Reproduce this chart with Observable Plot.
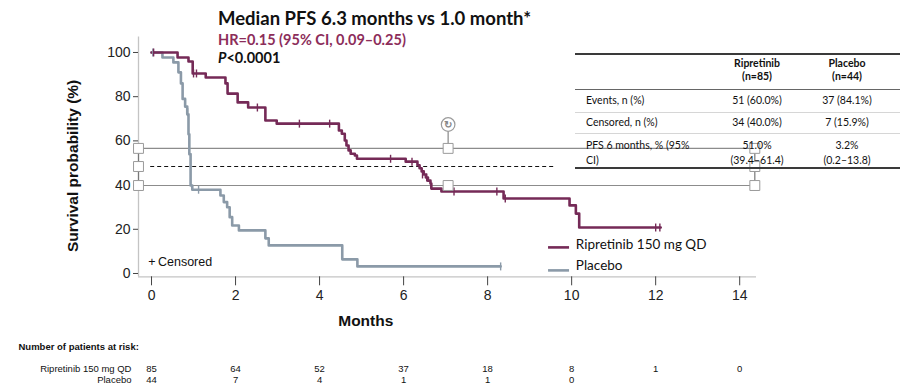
<!DOCTYPE html>
<html><head><meta charset="utf-8">
<script src="https://cdn.jsdelivr.net/npm/d3@7"></script>
<script src="https://cdn.jsdelivr.net/npm/@observablehq/plot@0.6"></script>
<style>
body{margin:0;background:#fff;}
#wrap{position:relative;width:910px;height:388px;overflow:hidden;background:#fff;}
#wrap svg{position:absolute;left:0;top:0;}
.t{position:absolute;white-space:nowrap;line-height:1;}
.tbl{font-family:Lato,"Open Sans",sans-serif;font-size:10.5px;color:#111;}
.c{transform:translate(-50%,-50%);text-align:center;}
.l{transform:translateY(-50%);}
.rule{position:absolute;left:575px;width:325px;}
</style></head><body><div id="wrap"></div>
<script>
// ---- data ----
const ripTime = [0,0.62,0.88,0.98,1.29,1.76,1.81,2.05,2.3,2.71,2.98,4.46,4.53,4.6,4.64,4.69,4.74,4.84,4.89,6.05,6.33,6.38,6.43,6.48,6.53,6.58,6.64,6.66,6.9,8.38,9.95,10.1,10.18,12.12];
const ripSurv = [100,97.7,95.9,90.5,88.7,86.0,81.4,77.4,75.1,69.2,67.8,64.7,63.2,60.2,57.9,55.7,54.2,53.4,51.9,50.6,49.0,47.6,46.2,44.8,43.4,42.0,40.7,38.4,37.1,33.9,30.8,27.1,20.8,20.8];
const ripCensT = [0.05,1.0,1.07,2.52,3.52,4.24,5.69,6.2,6.45,6.55,7.2,8.22,8.42,12.0,12.1];
const ripCensS = [100,90.5,90.5,75.1,67.8,67.8,51.9,50.6,44.8,43.4,37.1,37.1,33.9,20.8,20.8];
const plaTime = [0,0.26,0.52,0.64,0.7,0.74,0.8,0.85,0.88,0.9,0.93,0.97,1.64,1.72,1.8,1.86,1.92,2.08,2.71,2.79,4.54,4.9,8.31];
const plaSurv = [100,97.7,95.5,91,86,79,75.5,72,63,54,39.8,37.9,35.3,32.3,30,25.5,21.7,19.5,15.9,12.7,6.4,3.2,3.2];
const plaCensT = [0.03,0.8,0.86,1.12,8.31];
const plaCensS = [100,77,73,37.9,3.2];
const xTicks = [0,2,4,6,8,10,12,14];
const yTicks = [0,20,40,60,80,100];
const riskRip = [85,64,52,37,18,8,1,0];
const riskPla = [44,7,4,1,1,0];
const seriesNames = ["Ripretinib 150 mg QD","Placebo"];
const tableHead = ["Ripretinib\n(n=85)","Placebo\n(n=44)"];
const tableRows = ["Events, n (%)","Censored, n (%)","PFS 6 months, % (95%\nCI)"];
const tableRip = ["51 (60.0%)","34 (40.0%)","51.0%\n(39.4\u201361.4)"];
const tablePla = ["37 (84.1%)","7 (15.9%)","3.2%\n(0.2\u201313.8)"];
// selection-box overlay seen in the source picture
const boxY = [56.6, 48.4, 39.8];
const boxX = [-0.31, 7.06, 14.36];

const ripColor = "#752a57", plaColor = "#8b9aa8";
const rip = ripTime.map((t,i)=>({t, s:ripSurv[i]}));
const pla = plaTime.map((t,i)=>({t, s:plaSurv[i]}));
const ripC = ripCensT.map((t,i)=>({t, s:ripCensS[i]}));
const plaC = plaCensT.map((t,i)=>({t, s:plaCensS[i]}));
const bar = {draw(ctx,size){const r=Math.sqrt(size)/2;ctx.moveTo(0,-r);ctx.lineTo(0,r);}};
const handles = [
  {x:boxX[0],y:boxY[0]},{x:boxX[0],y:boxY[1]},{x:boxX[0],y:boxY[2]},
  {x:boxX[1],y:boxY[0]},{x:boxX[1],y:boxY[2]},
  {x:boxX[2],y:boxY[0]},{x:boxX[2],y:boxY[1]},{x:boxX[2],y:boxY[2]}];
const xMin=-0.31, xMax=14.4, yMin=-1.5, yMax=107;
const narrow = "'Liberation Sans Narrow','Liberation Sans',sans-serif";

const chart = Plot.plot({
  width:910, height:388,
  marginLeft:138, marginRight:154, marginTop:36.5, marginBottom:111.7,
  x:{domain:[xMin,xMax]}, y:{domain:[yMin,yMax]},
  style:{fontFamily:"'Liberation Sans',Arial,sans-serif", fontSize:"14px", color:"#222", background:"transparent"},
  marks:[
    Plot.ruleX([xMin],{y1:yMin,y2:yMax,stroke:"#c4c4c4",strokeWidth:1.3}),
    Plot.ruleY([yMin],{x1:xMin,x2:xMax,stroke:"#c4c4c4",strokeWidth:1.3}),
    Plot.axisY({ticks:yTicks, tickSize:5, tickPadding:3, fontSize:14, label:null, stroke:"#444"}),
    Plot.axisX({ticks:xTicks, tickSize:9, tickPadding:4, fontSize:14, label:null, stroke:"#444"}),
    Plot.text(["Months"],{x:5.1, frameAnchor:"bottom", dy:49, fontWeight:"bold", fontSize:15.5, fill:"#111"}),
    Plot.text(["Survival probability (%)"],{frameAnchor:"left", dx:-65, dy:9, rotate:-90, textAnchor:"middle", fontWeight:"bold", fontSize:15.5, fill:"#111"}),
    // selection overlay
    Plot.ruleY([boxY[0],boxY[2]],{x1:boxX[0],x2:boxX[2],stroke:"#8c8c8c",strokeWidth:1.2}),
    Plot.ruleY([boxY[1]],{x1:-0.02,x2:9.62,stroke:"#111",strokeWidth:1,strokeDasharray:"4,3"}),
    Plot.ruleX([boxX[0],boxX[2]],{y1:boxY[2],y2:boxY[0],stroke:"#777",strokeWidth:1.2}),
    Plot.ruleX([boxX[1]],{y1:boxY[0],y2:64,stroke:"#888",strokeWidth:1.2}),
    // curves
    Plot.line(pla,{x:"t",y:"s",curve:"step-after",stroke:plaColor,strokeWidth:2.6}),
    Plot.line(rip,{x:"t",y:"s",curve:"step-after",stroke:ripColor,strokeWidth:2.6}),
    Plot.dot(plaC,{x:"t",y:"s",symbol:bar,r:4.5,stroke:plaColor,strokeWidth:1.4}),
    Plot.dot(ripC,{x:"t",y:"s",symbol:bar,r:4.5,stroke:ripColor,strokeWidth:1.4}),
    Plot.dot(handles,{x:"x",y:"y",symbol:"square",r:5.6,fill:"white",stroke:"#9a9a9a",strokeWidth:1}),
    Plot.dot([{x:boxX[1],y:67.4}],{x:"x",y:"y",r:6.8,fill:"white",stroke:"#9a9a9a",strokeWidth:1.2}),
    Plot.text([{x:boxX[1],y:67.4}],{x:"x",y:"y",text:()=>"\u21bb",fontSize:10,fill:"#888",fontWeight:"bold"}),
    // censored note
    Plot.text(["+\u2009Censored"],{x:-0.08,y:5.4,textAnchor:"start",fontSize:12.5,fill:"#111"}),
    // legend
    Plot.ruleY([11.8],{x1:9.45,x2:9.95,stroke:ripColor,strokeWidth:2.6}),
    Plot.ruleY([1.4],{x1:9.45,x2:9.95,stroke:plaColor,strokeWidth:2.6}),
    Plot.text([seriesNames[0]],{x:10.1,y:13.2,textAnchor:"start",fontSize:13.5,fontFamily:"Lato,sans-serif",fill:"#111"}),
    Plot.text([seriesNames[1]],{x:10.1,y:3.6,textAnchor:"start",fontSize:13.5,fontFamily:"Lato,sans-serif",fill:"#111"}),
    // at-risk table
    Plot.text(["Number of patients at risk:"],{frameAnchor:"bottom-left",dx:-120,dy:73,textAnchor:"start",fontWeight:"bold",fontSize:9.5,fontFamily:narrow,fill:"#111"}),
    Plot.text([seriesNames[0]],{frameAnchor:"bottom-left",dx:-7,dy:95,textAnchor:"end",fontSize:9.5,fontFamily:narrow,fill:"#111"}),
    Plot.text([seriesNames[1]],{frameAnchor:"bottom-left",dx:-7,dy:106.5,textAnchor:"end",fontSize:9.5,fontFamily:narrow,fill:"#111"}),
    Plot.text(riskRip,{x:(d,i)=>xTicks[i],frameAnchor:"bottom",dy:95,fontSize:9.5,fontFamily:narrow,fill:"#111"}),
    Plot.text(riskPla,{x:(d,i)=>xTicks[i],frameAnchor:"bottom",dy:106.5,fontSize:9.5,fontFamily:narrow,fill:"#111"})
  ]
});
const wrap = document.getElementById("wrap");
wrap.appendChild(chart);

function addDiv(html, cls, x, y, style){
  const d=document.createElement("div"); d.className="t "+cls; d.innerHTML=html;
  d.style.left=x+"px"; d.style.top=y+"px"; if(style) Object.assign(d.style,style); wrap.appendChild(d); return d;
}
// titles
addDiv("Median PFS 6.3 months vs 1.0 month*","",218,9,{fontFamily:"Lato,sans-serif",fontWeight:"bold",fontSize:"18.5px",color:"#111"});
addDiv("HR=0.15 (95% CI, 0.09\u20130.25)","",218,33,{fontFamily:"Lato,sans-serif",fontWeight:"bold",fontSize:"14.5px",color:"#8c2d5a"});
addDiv("<i>P</i>&lt;0.0001","",218,51,{fontFamily:"Lato,sans-serif",fontWeight:"bold",fontSize:"14.5px",color:"#111"});
// table
function rule(y,color,w){const r=document.createElement("div");r.className="rule";r.style.top=(y-w/2)+"px";r.style.height=w+"px";r.style.background=color;wrap.appendChild(r);}
rule(54,"#3a3a3a",1.6); rule(89,"#666",1); rule(112,"#d6d6d6",1); rule(133,"#d6d6d6",1); rule(168,"#3a3a3a",1.6);
const colX=[757,847];
tableHead.forEach((h,i)=>{const p=h.split("\n");
  addDiv(p[0],"tbl c",colX[i],63,{fontWeight:"bold"}); addDiv(p[1],"tbl c",colX[i],76,{fontWeight:"bold"});});
const rowY=[[100],[122],[145,160]];
tableRows.forEach((r,i)=>{
  const lab=r.split("\n"), a=tableRip[i].split("\n"), b=tablePla[i].split("\n");
  lab.forEach((s,k)=>addDiv(s,"tbl l",586,rowY[i][k]));
  a.forEach((s,k)=>addDiv(s,"tbl c",colX[0],rowY[i][k]));
  b.forEach((s,k)=>addDiv(s,"tbl c",colX[1],rowY[i][k]));
});
</script></body></html>
